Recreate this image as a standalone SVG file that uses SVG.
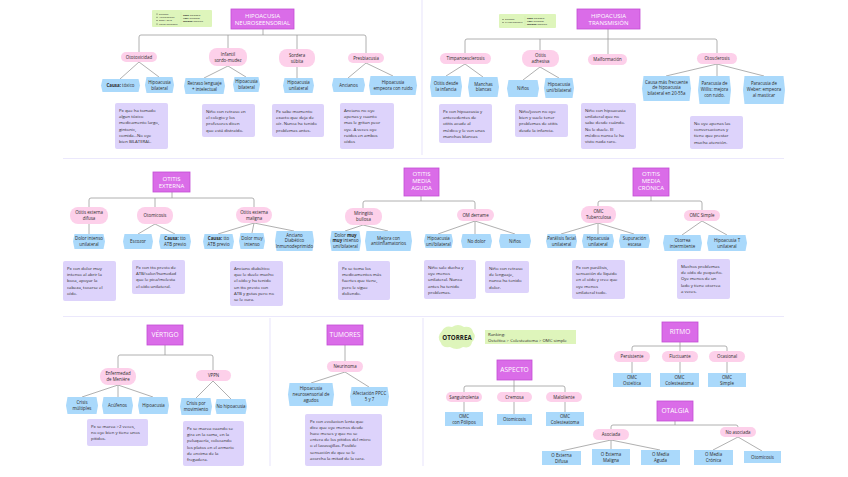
<svg xmlns="http://www.w3.org/2000/svg" width="848" height="477" viewBox="0 0 848 477">
<style>
text{font-family:"Open Sans","Liberation Sans",sans-serif;fill:#2a2a2a}
.tb{fill:#da6ce8;stroke:#c24ed4;stroke-width:0.8}
.tt{fill:#fff;font-size:6px;text-anchor:middle}
.tt1{fill:#fff;font-size:6.6px;text-anchor:middle}
.pl{fill:#fdd0ea}
.bl{fill:#aad9fb}
.nt{fill:#ddd3fb}
.gr{fill:#def5bb}
.s{font-size:4.4px;text-anchor:middle}
.n{font-size:4.3px}
.lg{font-size:2.4px}
.c{fill:none;stroke:#9c9c9c;stroke-width:0.8}
.sep{stroke:#ebe8fc;stroke-width:1.2;fill:none}
b,.bd{font-weight:bold}
</style>
<rect width="848" height="477" fill="#fff"/>

<g id="separators">
<path class="sep" d="M63,158.5 H784 M422,0 V155 M63,316.5 H784 M270,318 V466 M423,318 V466"/>
</g>

<g id="connectors">
<path class="c" d="M139,52 V37 Q139,35 141,35 H364 Q366,35 366,37 V53 M263,29 V35 M228,35 V48 M297,35 V49"/>
<path class="c" d="M139,62 L120,79 M139,62 L159,77 M228,66 L204,78 M228,66 L246,77 M297,67 V78 M366,63 L348,78 M366,63 L393,76"/>
<path class="c" d="M465,53 V41 Q465,39 467,39 H715 Q717,39 717,41 V53 M608,29 V54 M540,39 V50"/>
<path class="c" d="M465,64 L446,76 M465,64 L483,77 M540,67 L523,80 M540,67 L559,78 M717,64 L666,76 M717,64 V76 M717,64 L764,76"/>
<path class="c" d="M89,207 V200 Q89,198 91,198 H252 Q254,198 254,200 V207 M172,192 V198 M155,198 V207"/>
<path class="c" d="M89,224 V234 M155,224 L138,234 M155,224 L175,234 M254,223 L218,234 M254,223 L252,233 M254,223 L294,231"/>
<path class="c" d="M363,208 V203 Q363,201 365,201 H473 Q475,201 475,203 V209 M421,196 V201"/>
<path class="c" d="M363,225 L345,231 M363,225 L388,231 M475,221 L438,234 M475,221 V234 M475,221 L515,234"/>
<path class="c" d="M598,206 V203 Q598,201 600,201 H700 Q702,201 702,203 V210 M651,196 V201"/>
<path class="c" d="M598,223 L561,234 M598,223 V234 M598,223 L634,234 M702,221 L682,235 M702,221 L727,235"/>
<path class="c" d="M118,368 V357 Q118,355 120,355 H211 Q213,355 213,357 V370 M165,345 V355"/>
<path class="c" d="M118,385 L82,397 M118,385 V397 M118,385 L153,397 M213,381 L196,398 M213,381 L231,399"/>
<path class="c" d="M345,345 V361 M345,372 L311,383 M345,372 L369,387"/>
<path class="c" d="M464,392 V388 Q464,386 466,386 H563 Q565,386 565,388 V392 M514,380 V392 M464,402 V412 M514,402 V414 M565,402 V412"/>
<path class="c" d="M632,351 V348 Q632,346 634,346 H725 Q727,346 727,348 V351 M680,342 V351 M632,362 V373 M680,362 V373 M727,362 V373"/>
<path class="c" d="M611,429 V427 Q611,425 613,425 H736 Q738,425 738,427 M675,421 V425 M611,440 L561,451 M611,440 V449 M611,440 L660,450 M738,437 L713,450 M738,437 L762,451"/>
</g>

<g id="legend1">
<rect class="gr" x="152" y="10" width="60" height="17" rx="1"/>
<path d="M181,12 V25" stroke="#c8e3a3" stroke-width="0.4"/>
<circle cx="157" cy="14" r="0.5" fill="#333"/><text class="lg" x="159" y="14.8">Síntoma</text>
<circle cx="157" cy="17.3" r="0.5" fill="#333"/><text class="lg" x="159" y="18.1">Antecedentes</text>
<circle cx="157" cy="20.6" r="0.5" fill="#333"/><text class="lg" x="159" y="21.4">Edad / sexo</text>
<circle cx="157" cy="23.9" r="0.5" fill="#333"/><text class="lg" x="159" y="24.7">Factor agravante</text>
<text class="lg" x="183" y="16"><tspan class="bd">Rosa:</tspan> patología</text>
<text class="lg" x="183" y="19"><tspan class="bd">Azul:</tspan> síntomas</text>
<text class="lg" x="183" y="22"><tspan class="bd">Morado:</tspan> paciente</text>
</g>

<g id="legend2">
<rect class="gr" x="499" y="14" width="57" height="14" rx="1"/>
<path d="M525,16 V26" stroke="#c8e3a3" stroke-width="0.4"/>
<circle cx="503" cy="19.5" r="0.5" fill="#333"/><text class="lg" x="505" y="20.3">Síntoma</text>
<circle cx="503" cy="22.5" r="0.5" fill="#333"/><text class="lg" x="505" y="23.3">Px con paciente</text>
<text class="lg" x="527" y="18.5"><tspan class="bd">Rosa:</tspan> patología</text>
<text class="lg" x="527" y="21.5"><tspan class="bd">Azul:</tspan> síntomas</text>
<text class="lg" x="527" y="24.5"><tspan class="bd">Morado:</tspan> paciente</text>
</g>

<!-- ===== HIPOACUSIA NEUROSENSORIAL ===== -->
<g id="hn"><rect class="tb" x="231" y="9" width="63" height="20"/><text class="tt" x="262.5" y="17.5">HIPOACUSIA</text><text class="tt" x="262.5" y="24.5">NEUROSEENSORIAL</text></g>
<g id="ototox"><rect class="pl" x="121" y="52" width="36" height="10" rx="5"/><text class="s" x="139" y="58.6">Ototoxicidad</text></g>
<g id="infantil"><rect class="pl" x="209" y="48" width="38" height="18" rx="8"/><text class="s" x="228" y="55.5">Infantil</text><text class="s" x="228" y="61.5">sordo-mudez</text></g>
<g id="sordera"><rect class="pl" x="279" y="49" width="36" height="18" rx="8"/><text class="s" x="297" y="56.5">Sordera</text><text class="s" x="297" y="62.5">súbita</text></g>
<g id="presb"><rect class="pl" x="348" y="53" width="36" height="10" rx="5"/><text class="s" x="366" y="59.6">Presbiacusia</text></g>

<g id="b1"><polygon class="bl" points="102.5,79 138.5,79 140,85.5 138.5,92 102.5,92 101,85.5"/><text class="s" x="120.5" y="87.2"><tspan class="bd">Causa:</tspan> tóxico</text></g>
<g id="b2"><polygon class="bl" points="146.5,77 172.5,77 174,85 172.5,93 146.5,93 145,85"/><text class="s" x="159.5" y="83.8">Hipoacusia</text><text class="s" x="159.5" y="89.6">bilateral</text></g>
<g id="b3"><polygon class="bl" points="185.5,78 223.5,78 225,86 223.5,94 185.5,94 184,86"/><text class="s" x="204.5" y="84.8">Retraso lenguaje</text><text class="s" x="204.5" y="90.6">+ intelectual</text></g>
<g id="b4"><polygon class="bl" points="234.5,77 258.5,77 260,84.5 258.5,92 234.5,92 233,84.5"/><text class="s" x="246.5" y="83.3">Hipoacusia</text><text class="s" x="246.5" y="89.1">bilateral</text></g>
<g id="b5"><polygon class="bl" points="284.5,78 312.5,78 314,85.5 312.5,93 284.5,93 283,85.5"/><text class="s" x="298.5" y="84.3">Hipoacusia</text><text class="s" x="298.5" y="90.1">unilateral</text></g>
<g id="b6"><polygon class="bl" points="333.5,78 363.5,78 365,85 363.5,92 333.5,92 332,85"/><text class="s" x="348.5" y="86.6">Ancianos</text></g>
<g id="b7"><polygon class="bl" points="370.5,76 415.5,76 417,85.5 415.5,95 370.5,95 369,85.5"/><text class="s" x="393" y="84.3">Hipoacusia</text><text class="s" x="393" y="90.1">empeora con ruido</text></g>

<g id="n1"><rect class="nt" x="115" y="103" width="53" height="46" rx="2"/>
<text class="n" x="119" y="112">Px que ha tomado</text><text class="n" x="119" y="118.2">algun tóxico</text><text class="n" x="119" y="124.4">medicamento largo,</text><text class="n" x="119" y="130.6">gintonic,</text><text class="n" x="119" y="136.8">comida...No oye</text><text class="n" x="119" y="143">bien BILATERAL.</text></g>
<g id="n2"><rect class="nt" x="202" y="104" width="53" height="33" rx="2"/>
<text class="n" x="206" y="113">Niño con retraso en</text><text class="n" x="206" y="119.2">el   colegio   y   los</text><text class="n" x="206" y="125.4">profesores     dicen</text><text class="n" x="206" y="131.6">que está distraído.</text></g>
<g id="n3"><rect class="nt" x="272" y="104" width="52" height="33" rx="2"/>
<text class="n" x="276" y="113">Px  sabe  momento</text><text class="n" x="276" y="119.2">exacto que deja de</text><text class="n" x="276" y="125.4">oír. Nunca ha tenido</text><text class="n" x="276" y="131.6">problemas antes.</text></g>
<g id="n4"><rect class="nt" x="340" y="103" width="54" height="46" rx="2"/>
<text class="n" x="344" y="112">Anciano      no     oye</text><text class="n" x="344" y="118.2">apenas    y    cuanto</text><text class="n" x="344" y="124.4">mas le gritan peor</text><text class="n" x="344" y="130.6">oye.  A  veces  oye</text><text class="n" x="344" y="136.8">ruidos    en    ambos</text><text class="n" x="344" y="143">oídos</text></g>

<!-- ===== HIPOACUSIA TRANSMISION ===== -->
<g id="ht"><rect class="tb" x="577" y="9" width="63" height="20"/><text class="tt" x="608.5" y="17.5">HIPOACUSIA</text><text class="tt" x="608.5" y="24.5">TRANSMISIÓN</text></g>
<g id="timp"><rect class="pl" x="440" y="53" width="51" height="11" rx="5.5"/><text class="s" x="465.5" y="60">Timpanoesclerosis</text></g>
<g id="otadh"><rect class="pl" x="522" y="50" width="37" height="17" rx="8"/><text class="s" x="540.5" y="57">Otitis</text><text class="s" x="540.5" y="63">adhesiva</text></g>
<g id="malf"><rect class="pl" x="588" y="54" width="39" height="11" rx="5.5"/><text class="s" x="607.5" y="61">Malformación</text></g>
<g id="otoscl"><rect class="pl" x="697" y="53" width="40" height="11" rx="5.5"/><text class="s" x="717" y="60">Otosclerosis</text></g>

<g id="b8"><polygon class="bl" points="431.5,76 460.5,76 462,86.5 460.5,97 431.5,97 430,86.5"/><text class="s" x="446" y="85">Otitis desde</text><text class="s" x="446" y="90.8">la infancia</text></g>
<g id="b9"><polygon class="bl" points="469.5,77 497.5,77 499,87 497.5,97 469.5,97 468,87"/><text class="s" x="483.5" y="85.5">Manchas</text><text class="s" x="483.5" y="91.3">blancas</text></g>
<g id="b10"><polygon class="bl" points="508.5,80 537.5,80 539,88.5 537.5,97 508.5,97 507,88.5"/><text class="s" x="523" y="90">Niños</text></g>
<g id="b11"><polygon class="bl" points="545.5,78 572.5,78 574,88 572.5,98 545.5,98 544,88"/><text class="s" x="559" y="86">Hipoacusia</text><text class="s" x="559" y="91.8">uni/bilateral</text></g>
<g id="b12"><polygon class="bl" points="643.5,76 689.5,76 691,88.5 689.5,101 643.5,101 642,88.5"/><text class="s" x="666.5" y="83.5">Causa más frecuente</text><text class="s" x="666.5" y="89.3">de hipoacusia</text><text class="s" x="666.5" y="95.1">bilateral en 20-55a</text></g>
<g id="b13"><polygon class="bl" points="699.5,76 729.5,76 731,90 729.5,104 699.5,104 698,90"/><text class="s" x="714.5" y="84.8">Paracusia de</text><text class="s" x="714.5" y="90.8">Willis: mejora</text><text class="s" x="714.5" y="96.8">con ruido.</text></g>
<g id="b14"><polygon class="bl" points="744.5,76 783.5,76 785,90 783.5,104 744.5,104 743,90"/><text class="s" x="764" y="84.8">Paracusia de</text><text class="s" x="764" y="90.8">Weber: empeora</text><text class="s" x="764" y="96.8">al masticar</text></g>

<g id="n5"><rect class="nt" x="439" y="104" width="53" height="39" rx="2"/>
<text class="n" x="443" y="113">Px con hipoacusia y</text><text class="n" x="443" y="119.2">antecedentes de</text><text class="n" x="443" y="125.4">otitis acude al</text><text class="n" x="443" y="131.6">médico y le ven unas</text><text class="n" x="443" y="137.8">manchas blancas</text></g>
<g id="n6"><rect class="nt" x="515" y="104" width="53" height="33" rx="2"/>
<text class="n" x="519" y="113">Niño/joven no oye</text><text class="n" x="519" y="119.2">bien y suele tener</text><text class="n" x="519" y="125.4">problemas de otitis</text><text class="n" x="519" y="131.6">desde la infancia.</text></g>
<g id="n7"><rect class="nt" x="581" y="103" width="55" height="46" rx="2"/>
<text class="n" x="585" y="112">Niño con hipoacusia</text><text class="n" x="585" y="118.2">unilateral que no</text><text class="n" x="585" y="124.4">sabe desde cuándo.</text><text class="n" x="585" y="130.6">No le duele. El</text><text class="n" x="585" y="136.8">médico nunca le ha</text><text class="n" x="585" y="143">visto nada raro.</text></g>
<g id="n8"><rect class="nt" x="690" y="116" width="53" height="33" rx="2"/>
<text class="n" x="694" y="125">No oye apenas las</text><text class="n" x="694" y="131.2">conversaciones y</text><text class="n" x="694" y="137.4">tiene que prestar</text><text class="n" x="694" y="143.6">mucha atención.</text></g>

<!-- ===== OTITIS EXTERNA ===== -->
<g id="oe"><rect class="tb" x="153" y="172" width="37" height="20"/><text class="tt" x="171.5" y="180.5">OTITIS</text><text class="tt" x="171.5" y="187.5">EXTERNA</text></g>
<g id="oed"><rect class="pl" x="70" y="207" width="38" height="17" rx="8"/><text class="s" x="89" y="214">Otitis externa</text><text class="s" x="89" y="220">difusa</text></g>
<g id="otomic"><rect class="pl" x="137" y="207" width="36" height="17" rx="8"/><text class="s" x="155" y="217">Otomicosis</text></g>
<g id="oem"><rect class="pl" x="236" y="207" width="36" height="16" rx="8"/><text class="s" x="254" y="213.7">Otitis externa</text><text class="s" x="254" y="219.5">maligna</text></g>

<g id="b15"><polygon class="bl" points="74.5,234 103.5,234 105,241.5 103.5,249 74.5,249 73,241.5"/><text class="s" x="89" y="240.4">Dolor intenso</text><text class="s" x="89" y="246.2">unilateral</text></g>
<g id="b16"><polygon class="bl" points="124.5,234 151.5,234 153,241.5 151.5,249 124.5,249 123,241.5"/><text class="s" x="138" y="243">Escozor</text></g>
<g id="b17"><polygon class="bl" points="160.5,234 189.5,234 191,241.5 189.5,249 160.5,249 159,241.5"/><text class="s" x="175" y="240.4"><tspan class="bd">Causa:</tspan> tto</text><text class="s" x="175" y="246.2">ATB previo</text></g>
<g id="b18"><polygon class="bl" points="204.5,234 232.5,234 234,241.5 232.5,249 204.5,249 203,241.5"/><text class="s" x="218.5" y="240.4"><tspan class="bd">Causa:</tspan> tto</text><text class="s" x="218.5" y="246.2">ATB previo</text></g>
<g id="b19"><polygon class="bl" points="240.5,233 263.5,233 265,241 263.5,249 240.5,249 239,241"/><text class="s" x="252" y="239.8">Dolor muy</text><text class="s" x="252" y="245.6">intenso</text></g>
<g id="b20"><polygon class="bl" points="276.5,231 312.5,231 314,241 312.5,251 276.5,251 275,241"/><text class="s" x="294.5" y="236.6">Anciano</text><text class="s" x="294.5" y="242.2">Diabético</text><text class="s" x="294.5" y="247.8">Inmunodeprimido</text></g>

<g id="n9"><rect class="nt" x="63" y="261" width="53" height="40" rx="2"/>
<text class="n" x="67" y="270">Px  con  dolor  muy</text><text class="n" x="67" y="276.2">intenso  al  abrir  la</text><text class="n" x="67" y="282.4">boca,    apoyar    la</text><text class="n" x="67" y="288.6">cabeza,  tocarse  el</text><text class="n" x="67" y="294.8">oído.</text></g>
<g id="n10"><rect class="nt" x="132" y="260" width="53" height="34" rx="2"/>
<text class="n" x="136" y="269">Px con tto previo de</text><text class="n" x="136" y="275.2">ATB/calor/humedad</text><text class="n" x="136" y="281.4">que le pica/molesta</text><text class="n" x="136" y="287.6">el oído unilateral.</text></g>
<g id="n11"><rect class="nt" x="230" y="261" width="53" height="45" rx="2"/>
<text class="n" x="234" y="270">Anciano       diabético</text><text class="n" x="234" y="276.2">que le duele mucho</text><text class="n" x="234" y="282.4">el oído y ha tenido</text><text class="n" x="234" y="288.6">un tto previo con</text><text class="n" x="234" y="294.8">ATB y gotas pero no</text><text class="n" x="234" y="301">se le cura.</text></g>

<!-- ===== OMA ===== -->
<g id="oma"><rect class="tb" x="404" y="168" width="35" height="28"/><text class="tt" x="421.5" y="175.5">OTITIS</text><text class="tt" x="421.5" y="182.5">MEDIA</text><text class="tt" x="421.5" y="189.5">AGUDA</text></g>
<g id="miring"><rect class="pl" x="345" y="208" width="37" height="17" rx="8"/><text class="s" x="363.5" y="215">Miringitis</text><text class="s" x="363.5" y="221">bullosa</text></g>
<g id="omd"><rect class="pl" x="457" y="209" width="37" height="12" rx="6"/><text class="s" x="475.5" y="216.5">OM derrame</text></g>

<g id="b21"><polygon class="bl" points="331.5,231 359.5,231 361,241 359.5,251 331.5,251 330,241"/><text class="s" x="345.5" y="236.6">Dolor <tspan class="bd">muy</tspan></text><text class="s" x="345.5" y="242.2"><tspan class="bd">muy</tspan> intenso</text><text class="s" x="345.5" y="247.8">uni/bilateral</text></g>
<g id="b22"><polygon class="bl" points="366.5,231 410.5,231 412,241 410.5,251 366.5,251 365,241"/><text class="s" x="388.5" y="239.6">Mejora con</text><text class="s" x="388.5" y="245.4">antiinflamatorios</text></g>
<g id="b23"><polygon class="bl" points="425.5,234 451.5,234 453,241 451.5,248 425.5,248 424,241"/><text class="s" x="438.5" y="240">Hipoacusia</text><text class="s" x="438.5" y="245.6">uni/bilateral</text></g>
<g id="b24"><polygon class="bl" points="462.5,234 490.5,234 492,241 490.5,248 462.5,248 461,241"/><text class="s" x="476.5" y="242.6">No dolor</text></g>
<g id="b25"><polygon class="bl" points="500.5,234 529.5,234 531,241 529.5,248 500.5,248 499,241"/><text class="s" x="515" y="242.6">Niños</text></g>

<g id="n12"><rect class="nt" x="338" y="261" width="52" height="39" rx="2"/>
<text class="n" x="342" y="270">Px   se   toma   los</text><text class="n" x="342" y="276.2">medicamentos   más</text><text class="n" x="342" y="282.4">fuertes   que   tiene,</text><text class="n" x="342" y="288.6">pero       le      sigue</text><text class="n" x="342" y="294.8">doliendo.</text></g>
<g id="n13"><rect class="nt" x="424" y="260" width="52" height="39" rx="2"/>
<text class="n" x="428" y="269">Niño sale ducha y</text><text class="n" x="428" y="275.2">oye               menos</text><text class="n" x="428" y="281.4">unilateral.     Nunca</text><text class="n" x="428" y="287.6">antes     ha    tenido</text><text class="n" x="428" y="293.8">problemas.</text></g>
<g id="n14"><rect class="nt" x="485" y="261" width="44" height="32" rx="2"/>
<text class="n" x="489" y="270">Niño con retraso</text><text class="n" x="489" y="276.2">de          lenguaje,</text><text class="n" x="489" y="282.4">nunca ha tenido</text><text class="n" x="489" y="288.6">dolor.</text></g>

<!-- ===== OMC ===== -->
<g id="omc"><rect class="tb" x="633" y="168" width="36" height="28"/><text class="tt" x="651" y="175.5">OTITIS</text><text class="tt" x="651" y="182.5">MEDIA</text><text class="tt" x="651" y="189.5">CRÓNICA</text></g>
<g id="omct"><rect class="pl" x="581" y="206" width="35" height="17" rx="8"/><text class="s" x="598.5" y="213">OMC</text><text class="s" x="598.5" y="219">Tuberculosa</text></g>
<g id="omcs"><rect class="pl" x="684" y="210" width="36" height="11" rx="5.5"/><text class="s" x="702" y="217">OMC Simple</text></g>

<g id="b26"><polygon class="bl" points="547.5,234 575.5,234 577,241 575.5,248 547.5,248 546,241"/><text class="s" x="561.5" y="240">Parálisis facial</text><text class="s" x="561.5" y="245.6">unilateral</text></g>
<g id="b27"><polygon class="bl" points="583.5,234 612.5,234 614,241 612.5,248 583.5,248 582,241"/><text class="s" x="598" y="240">Hipoacusia</text><text class="s" x="598" y="245.6">unilateral</text></g>
<g id="b28"><polygon class="bl" points="620.5,234 648.5,234 650,241 648.5,248 620.5,248 619,241"/><text class="s" x="634.5" y="240">Supuración</text><text class="s" x="634.5" y="245.6">escasa</text></g>
<g id="b29"><polygon class="bl" points="664.5,235 700.5,235 702,243 700.5,251 664.5,251 663,243"/><text class="s" x="682.5" y="241.8">Otorrea</text><text class="s" x="682.5" y="247.6">intermitente</text></g>
<g id="b30"><polygon class="bl" points="708.5,235 745.5,235 747,243 745.5,251 708.5,251 707,243"/><text class="s" x="727" y="241.8">Hipoacusia T</text><text class="s" x="727" y="247.6">unilateral</text></g>

<g id="n15"><rect class="nt" x="572" y="260" width="53" height="39" rx="2"/>
<text class="n" x="576" y="269">Px     con     parálisis,</text><text class="n" x="576" y="275.2">sensación de líquido</text><text class="n" x="576" y="281.4">en el oído y cree que</text><text class="n" x="576" y="287.6">oye                menos</text><text class="n" x="576" y="293.8">unilateral todo.</text></g>
<g id="n16"><rect class="nt" x="677" y="259" width="53" height="40" rx="2"/>
<text class="n" x="681" y="268">Muchos    problemas</text><text class="n" x="681" y="274.2">de oído de pequeño.</text><text class="n" x="681" y="280.4">Oye  menos  de  un</text><text class="n" x="681" y="286.6">lado  y  tiene  otorrea</text><text class="n" x="681" y="292.8">a veces.</text></g>

<!-- ===== VERTIGO ===== -->
<g id="vertigo"><rect class="tb" x="147" y="325" width="36" height="20"/><text class="tt1" x="165" y="337.3">VÉRTIGO</text></g>
<g id="meniere"><rect class="pl" x="100" y="368" width="36" height="17" rx="8"/><text class="s" x="118" y="375">Enfermedad</text><text class="s" x="118" y="381">de Menière</text></g>
<g id="vppn"><rect class="pl" x="196" y="370" width="35" height="11" rx="5.5"/><text class="s" x="213.5" y="377">VPPN</text></g>

<g id="b31"><polygon class="bl" points="67.5,397 96.5,397 98,405.5 96.5,414 67.5,414 66,405.5"/><text class="s" x="82" y="404">Crisis</text><text class="s" x="82" y="409.8">múltiples</text></g>
<g id="b32"><polygon class="bl" points="103.5,397 131.5,397 133,405.5 131.5,414 103.5,414 102,405.5"/><text class="s" x="117.5" y="407.1">Acúfenos</text></g>
<g id="b33"><polygon class="bl" points="139.5,397 167.5,397 169,405.5 167.5,414 139.5,414 138,405.5"/><text class="s" x="153.5" y="407.1">Hipoacusia</text></g>
<g id="b34"><polygon class="bl" points="181.5,398 210.5,398 212,406.5 210.5,415 181.5,415 180,406.5"/><text class="s" x="196" y="405">Crisis por</text><text class="s" x="196" y="410.8">movimiento</text></g>
<g id="b35"><polygon class="bl" points="216.5,399 245.5,399 247,406.5 245.5,414 216.5,414 215,406.5"/><text class="s" x="231" y="408">No hipoacusia</text></g>

<g id="n17"><rect class="nt" x="87" y="419" width="61" height="27" rx="2"/>
<text class="n" x="91" y="428">Px  se  marea  &gt;2  veces,</text><text class="n" x="91" y="434.2">no oye bien y tiene unos</text><text class="n" x="91" y="440.4">pitidos.</text></g>
<g id="n18"><rect class="nt" x="183" y="421" width="61" height="45" rx="2"/>
<text class="n" x="187" y="430">Px se marea cuando se</text><text class="n" x="187" y="436.2">gira en la cama, en la</text><text class="n" x="187" y="442.4">peluquería,     colocando</text><text class="n" x="187" y="448.6">los platos en el armario</text><text class="n" x="187" y="454.8">de     encima     de     la</text><text class="n" x="187" y="461">fregadera.</text></g>

<!-- ===== TUMORES ===== -->
<g id="tumores"><rect class="tb" x="327" y="325" width="36" height="20"/><text class="tt1" x="345" y="337.3">TUMORES</text></g>
<g id="neurinoma"><rect class="pl" x="327" y="361" width="36" height="11" rx="5.5"/><text class="s" x="345" y="368">Neurinoma</text></g>
<g id="b36"><polygon class="bl" points="289.5,383 332.5,383 334,394.5 332.5,406 289.5,406 288,394.5"/><text class="s" x="311" y="389.5">Hipoacusia</text><text class="s" x="311" y="395.5">neurosensorial de</text><text class="s" x="311" y="401.5">agudos</text></g>
<g id="b37"><polygon class="bl" points="351.5,387 387.5,387 389,396.5 387.5,406 351.5,406 350,396.5"/><text class="s" x="369.5" y="395">Afectación PPCC</text><text class="s" x="369.5" y="400.8">5 y 7</text></g>
<g id="n19"><rect class="nt" x="305" y="414" width="77" height="52" rx="2"/>
<text class="n" x="310" y="422.5">Px  con  evolucion  lenta  que</text><text class="n" x="310" y="428.7">dice  que  oye  menos  desde</text><text class="n" x="310" y="434.9">hace  meses  y  que  no  se</text><text class="n" x="310" y="441.1">entera de los pitidos del micro</text><text class="n" x="310" y="447.3">o    el    lavavajillas.    Posible</text><text class="n" x="310" y="453.5">sensación   de   que   se   le</text><text class="n" x="310" y="459.7">acorcha la mitad de la cara.</text></g>

<!-- ===== OTORREA ===== -->
<g id="otorrea">
<path class="gr" d="M442,331 Q445,325 452,327 Q458,323 464,327 Q472,326 473,332 Q477,337 472,342 Q471,349 463,347 Q457,351 450,347 Q442,348 441,343 Q436,337 442,331 Z"/>
<text x="457" y="339.6" style="font-size:6.2px;font-weight:bold;text-anchor:middle;fill:#1e1e1e">OTORREA</text>
</g>
<g id="ranking"><rect class="gr" x="485" y="330" width="91" height="14"/><text class="n" x="488" y="335.8">Ranking:</text><text class="n" x="488" y="341.6">Osteítica &gt; Colesteatoma &gt; OMC simple</text></g>

<g id="aspecto"><rect class="tb" x="497" y="360" width="35" height="20"/><text class="tt1" x="514.5" y="372.3">ASPECTO</text></g>
<g id="sang"><rect class="pl" x="446" y="392" width="36" height="10" rx="5"/><text class="s" x="464" y="398.6">Sanguinolenta</text></g>
<g id="crem"><rect class="pl" x="497" y="392" width="35" height="10" rx="5"/><text class="s" x="514.5" y="398.6">Cremosa</text></g>
<g id="malol"><rect class="pl" x="546" y="392" width="36" height="10" rx="5"/><text class="s" x="564" y="398.6">Maloliente</text></g>
<g id="b38"><rect class="bl" x="445" y="412" width="38" height="14"/><text class="s" x="464" y="418">OMC</text><text class="s" x="464" y="423.6">con Pólipos</text></g>
<g id="b39"><rect class="bl" x="497" y="414" width="35" height="11"/><text class="s" x="514.5" y="421">Otomicosis</text></g>
<g id="b40"><rect class="bl" x="546" y="412" width="38" height="14"/><text class="s" x="565" y="418">OMC</text><text class="s" x="565" y="423.6">Colesteatoma</text></g>

<g id="ritmo"><rect class="tb" x="662" y="322" width="36" height="20"/><text class="tt1" x="680" y="334.3">RITMO</text></g>
<g id="pers"><rect class="pl" x="614" y="351" width="36" height="11" rx="5.5"/><text class="s" x="632" y="358">Persistente</text></g>
<g id="fluct"><rect class="pl" x="662" y="351" width="36" height="11" rx="5.5"/><text class="s" x="680" y="358">Fluctuante</text></g>
<g id="ocas"><rect class="pl" x="709" y="351" width="36" height="11" rx="5.5"/><text class="s" x="727" y="358">Ocasional</text></g>
<g id="b41"><rect class="bl" x="613" y="373" width="38" height="14"/><text class="s" x="632" y="379">OMC</text><text class="s" x="632" y="384.6">Osteítica</text></g>
<g id="b42"><rect class="bl" x="660" y="373" width="39" height="14"/><text class="s" x="679.5" y="379">OMC</text><text class="s" x="679.5" y="384.6">Colesteatoma</text></g>
<g id="b43"><rect class="bl" x="708" y="373" width="38" height="14"/><text class="s" x="727" y="379">OMC</text><text class="s" x="727" y="384.6">Simple</text></g>

<g id="otalgia"><rect class="tb" x="657" y="401" width="36" height="20"/><text class="tt1" x="675" y="413.3">OTALGIA</text></g>
<g id="asoc"><rect class="pl" x="593" y="429" width="36" height="11" rx="5.5"/><text class="s" x="611" y="436">Asociada</text></g>
<g id="noasoc"><rect class="pl" x="720" y="427" width="36" height="10" rx="5"/><text class="s" x="738" y="433.6">No asociada</text></g>
<g id="b44"><rect class="bl" x="542" y="451" width="39" height="14"/><text class="s" x="561.5" y="457">O Externa</text><text class="s" x="561.5" y="462.6">Difusa</text></g>
<g id="b45"><rect class="bl" x="592" y="449" width="38" height="16"/><text class="s" x="611" y="455.8">O Externa</text><text class="s" x="611" y="461.6">Maligna</text></g>
<g id="b46"><rect class="bl" x="641" y="450" width="39" height="15"/><text class="s" x="660.5" y="456.4">O Media</text><text class="s" x="660.5" y="462.2">Aguda</text></g>
<g id="b47"><rect class="bl" x="694" y="450" width="39" height="15"/><text class="s" x="713.5" y="456.4">O Media</text><text class="s" x="713.5" y="462.2">Crónica</text></g>
<g id="b48"><rect class="bl" x="744" y="451" width="37" height="12"/><text class="s" x="762.5" y="458.6">Otomicosis</text></g>
</svg>
